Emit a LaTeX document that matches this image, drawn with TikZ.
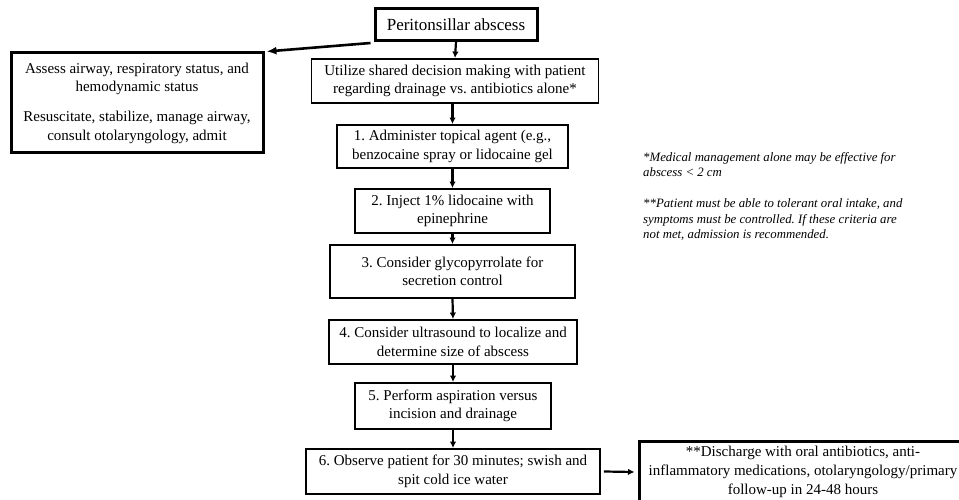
\documentclass[tikz,border=0pt]{standalone}
\usepackage{fontspec}
\setmainfont{Liberation Serif}
\usetikzlibrary{arrows.meta,positioning}
\begin{document}
\frenchspacing
\begin{tikzpicture}[x=1pt,y=-1pt,
  box/.style={draw,line width=1.9pt,inner sep=0pt,align=center,font=\fontsize{15}{18.5}\selectfont},
  thickbox/.style={box,line width=3pt},
  flow/.style={line width=2.2pt,-{Latex[length=6.5pt,width=6.5pt]}},
  note/.style={inner sep=0pt,align=left,font=\fontsize{12.8}{15.5}\selectfont\itshape}]
\path[use as bounding box,clip] (0,0) rectangle (959,500);
\node[thickbox,minimum width=162pt,minimum height=32pt,font=\fontsize{17}{20}\selectfont] (peri) at (456,24.5) {Peritonsillar abscess};
\node[thickbox,minimum width=252pt,minimum height=100pt] (left) at (137,103)
  {Assess airway, respiratory status, and\\hemodynamic status\\[11.5pt]Resuscitate, stabilize, manage airway,\\consult otolaryngology, admit};
\node[box,minimum width=287pt,minimum height=44pt] (util) at (455,81)
  {Utilize shared decision making with patient\\regarding drainage vs. antibiotics alone*};
\node[box,minimum width=231pt,minimum height=43pt] (s1) at (452.5,146.5)
  {1. Administer topical agent (e.g.,\\benzocaine spray or lidocaine gel};
\node[box,minimum width=195pt,minimum height=44pt] (s2) at (452.5,211)
  {2. Inject 1\% lidocaine with\\epinephrine};
\node[box,minimum width=245pt,minimum height=53pt] (s3) at (452.5,271.5)
  {3. Consider glycopyrrolate for\\secretion control};
\node[box,minimum width=248pt,minimum height=44pt] (s4) at (453,342)
  {4. Consider ultrasound to localize and\\determine size of abscess};
\node[box,minimum width=196pt,minimum height=46pt] (s5) at (453,406)
  {5. Perform aspiration versus\\incision and drainage};
\node[box,minimum width=294pt,minimum height=45pt] (s6) at (453,471.5)
  {6. Observe patient for 30 minutes; swish and\\spit cold ice water};
\node[thickbox,minimum width=328pt,minimum height=62pt,font=\fontsize{15}{19}\selectfont] (disc) at (803,472)
  {**Discharge with oral antibiotics, anti-\\inflammatory medications, otolaryngology/primary\\follow-up in 24-48 hours};
\node[note,anchor=north west] (notes) at (643,152)
  {*Medical management alone may be effective for\\abscess < 2 cm\\[15.5pt]**Patient must be able to tolerant oral intake, and\\symptoms must be controlled. If these criteria are\\not met, admission is recommended.};
\draw[line width=2.6pt,-{Latex[length=10pt,width=8pt]}] ([xshift=-3pt,yshift=-1pt]peri.south west) -- ([xshift=2pt]left.north east);
\draw[flow] (peri.south) -- (util.north);
\draw[flow] (util.south -| s1.north) -- (s1.north);
\draw[flow] (s1.south) -- (s2.north);
\draw[flow] (s2.south) -- (s3.north);
\draw[flow] (s3.south) -- (s4.north);
\draw[flow] (s4.south) -- (s5.north);
\draw[flow] (s5.south) -- (s6.north);
\draw[flow] ([xshift=3pt]s6.east) -- ([xshift=-3pt]disc.west);
\end{tikzpicture}
\end{document}
